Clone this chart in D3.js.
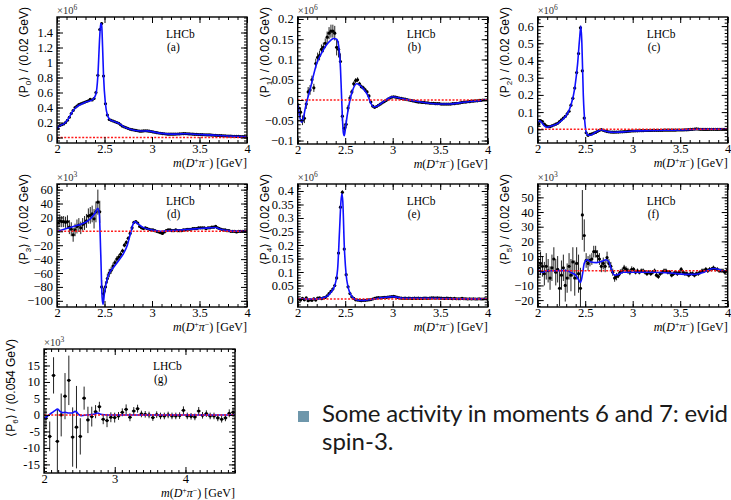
<!DOCTYPE html>
<html>
<head>
<meta charset="utf-8">
<script src="https://cdn.jsdelivr.net/npm/d3@7"></script>
<style>
body { margin: 0; background: #fff; }
svg { display: block; }
.tick text { font-family: "Liberation Serif", serif; font-size: 12.5px; fill: #000; }
.tick line { stroke: #000; }
</style>
</head>
<body>
<svg id="chart" width="731" height="500"></svg>
<script>
// bin centres: 0.02 GeV bins for P0..P5, 0.054 GeV bins for P6
const bins02 = d3.range(100).map(i => 2.01 + 0.02 * i);
const bins054 = d3.range(50).map(i => 2.027 + 0.054 * i);

const xTicks4 = [2, 2.5, 3, 3.5, 4];
const xTicks47 = [2, 3, 4];

const yTicksA = [0, 0.2, 0.4, 0.6, 0.8, 1, 1.2, 1.4];
const yTicksB = [-0.1, -0.05, 0, 0.05, 0.1, 0.15, 0.2];
const yTicksC = [0, 0.1, 0.2, 0.3, 0.4, 0.5, 0.6];
const yTicksD = [-100, -80, -60, -40, -20, 0, 20, 40, 60];
const yTicksE = [0, 0.05, 0.1, 0.15, 0.2, 0.25, 0.3, 0.35, 0.4];
const yTicksF = [-20, -10, 0, 10, 20, 30, 40, 50];
const yTicksG = [-15, -10, -5, 0, 5, 10, 15];

// <P0> (x1e6)
const p0Vals = [
  0.12, 0.16, 0.17, 0.18, 0.20, 0.23, 0.27, 0.32, 0.36, 0.40,
  0.42, 0.44, 0.45, 0.46, 0.47, 0.48, 0.49, 0.51, 0.50, 0.52,
  0.60, 0.83, 1.44, 1.52, 0.82, 0.45, 0.30, 0.24, 0.23, 0.22,
  0.21, 0.20, 0.19, 0.17, 0.15, 0.14, 0.13, 0.12, 0.11, 0.105,
  0.10, 0.095, 0.09, 0.085, 0.085, 0.088, 0.09, 0.088, 0.085, 0.08,
  0.075, 0.07, 0.065, 0.06, 0.057, 0.053, 0.05, 0.047, 0.045, 0.045,
  0.044, 0.045, 0.046, 0.047, 0.048, 0.05, 0.051, 0.052, 0.05, 0.048,
  0.047, 0.045, 0.043, 0.042, 0.04, 0.039, 0.038, 0.037, 0.036, 0.035,
  0.034, 0.032, 0.03, 0.029, 0.027, 0.026, 0.025, 0.023, 0.022, 0.02,
  0.019, 0.018, 0.017, 0.016, 0.015, 0.014, 0.013, 0.012, 0.011, 0.01
];
const p0Errs = [
  0.01, 0.01, 0.01, 0.01, 0.01, 0.01, 0.01, 0.01, 0.01, 0.01,
  0.01, 0.01, 0.01, 0.01, 0.01, 0.01, 0.01, 0.01, 0.01, 0.01,
  0.012, 0.015, 0.02, 0.02, 0.015, 0.012, 0.01, 0.008, 0.008, 0.008,
  0.006, 0.006, 0.006, 0.006, 0.006, 0.006, 0.006, 0.006, 0.006, 0.006,
  0.005, 0.005, 0.005, 0.005, 0.005, 0.005, 0.005, 0.005, 0.005, 0.005,
  0.005, 0.005, 0.005, 0.005, 0.005, 0.005, 0.005, 0.005, 0.005, 0.005,
  0.004, 0.004, 0.004, 0.004, 0.004, 0.004, 0.004, 0.004, 0.004, 0.004,
  0.004, 0.004, 0.004, 0.004, 0.004, 0.004, 0.004, 0.004, 0.004, 0.004,
  0.003, 0.003, 0.003, 0.003, 0.003, 0.003, 0.003, 0.003, 0.003, 0.003,
  0.003, 0.003, 0.003, 0.003, 0.003, 0.003, 0.003, 0.003, 0.003, 0.003
];
const p0Fit = [[2.0, 0.10], [2.02, 0.15], [2.05, 0.17], [2.08, 0.19], [2.12, 0.25], [2.16, 0.34],
  [2.2, 0.40], [2.25, 0.44], [2.3, 0.47], [2.35, 0.49], [2.38, 0.51], [2.41, 0.58], [2.43, 0.82],
  [2.45, 1.35], [2.46, 1.52], [2.47, 1.5], [2.48, 1.2], [2.49, 0.82], [2.51, 0.45], [2.53, 0.30],
  [2.56, 0.235], [2.6, 0.215], [2.65, 0.19], [2.7, 0.145], [2.75, 0.12], [2.8, 0.10], [2.85, 0.09],
  [2.9, 0.087], [2.95, 0.088], [3.0, 0.078], [3.05, 0.065], [3.1, 0.055], [3.2, 0.045], [3.3, 0.048],
  [3.36, 0.051], [3.45, 0.043], [3.6, 0.035], [3.8, 0.02], [4.0, 0.008]];

// <P1> (x1e6)
const p1Vals = [
  -0.02, -0.03, -0.05, -0.045, -0.01, 0.02, 0.025, 0.05, 0.03, 0.09,
  0.105, 0.11, 0.125, 0.13, 0.14, 0.155, 0.165, 0.17, 0.17, 0.165,
  0.13, 0.125, 0.095, -0.04, -0.07, -0.06, -0.02, 0.005, 0.02, 0.04,
  0.048, 0.05, 0.04, 0.033, 0.03, 0.025, 0.02, 0.01, -0.005, -0.015,
  -0.018, -0.016, -0.013, -0.01, -0.007, -0.004, -0.001, 0.002, 0.005, 0.007,
  0.008, 0.007, 0.006, 0.005, 0.004, 0.003, 0.002, 0.001, 0, -0.001,
  -0.002, -0.003, -0.004, -0.005, -0.005, -0.006, -0.006, -0.007, -0.007, -0.008,
  -0.008, -0.008, -0.009, -0.009, -0.009, -0.01, -0.01, -0.01, -0.01, -0.01,
  -0.01, -0.009, -0.009, -0.008, -0.008, -0.007, -0.006, -0.005, -0.005, -0.004,
  -0.004, -0.003, -0.003, -0.002, -0.002, -0.001, -0.001, 0, 0, 0
];
const p1Errs = [
  0.012, 0.012, 0.012, 0.012, 0.012, 0.012, 0.012, 0.01, 0.01, 0.012,
  0.012, 0.012, 0.012, 0.012, 0.012, 0.014, 0.015, 0.016, 0.016, 0.018,
  0.02, 0.02, 0.02, 0.012, 0.012, 0.01, 0.008, 0.007, 0.006, 0.006,
  0.006, 0.006, 0.005, 0.005, 0.005, 0.005, 0.004, 0.004, 0.003, 0.003,
  0.002, 0.002, 0.002, 0.002, 0.002, 0.002, 0.002, 0.002, 0.002, 0.002,
  0.002, 0.002, 0.002, 0.002, 0.002, 0.002, 0.002, 0.002, 0.002, 0.002,
  0.002, 0.002, 0.002, 0.002, 0.002, 0.002, 0.002, 0.002, 0.002, 0.002,
  0.002, 0.002, 0.002, 0.002, 0.002, 0.002, 0.002, 0.002, 0.002, 0.002,
  0.002, 0.002, 0.002, 0.002, 0.002, 0.002, 0.002, 0.002, 0.002, 0.002,
  0.002, 0.002, 0.002, 0.002, 0.002, 0.002, 0.002, 0.002, 0.002, 0.002
];
const p1Fit = [[2.0, -0.01], [2.02, -0.04], [2.04, -0.055], [2.06, -0.045], [2.08, -0.02], [2.1, 0.0],
  [2.13, 0.025], [2.16, 0.055], [2.2, 0.09], [2.25, 0.115], [2.3, 0.135], [2.35, 0.148], [2.38, 0.152],
  [2.41, 0.15], [2.43, 0.135], [2.45, 0.08], [2.46, 0.02], [2.47, -0.04], [2.48, -0.08], [2.49, -0.088],
  [2.5, -0.075], [2.52, -0.04], [2.55, 0.0], [2.58, 0.025], [2.62, 0.04], [2.65, 0.037], [2.7, 0.025],
  [2.74, 0.01], [2.77, -0.008], [2.8, -0.017], [2.83, -0.016], [2.88, -0.008], [2.93, 0.0], [3.0, 0.008],
  [3.05, 0.006], [3.15, 0.001], [3.3, -0.005], [3.5, -0.01], [3.6, -0.01], [3.7, -0.007], [3.85, -0.003],
  [4.0, 0.0]];

// <P2> (x1e6)
const p2Vals = [
  0.03, 0.05, 0.045, 0.03, 0.02, 0.015, 0.015, 0.02, 0.025, 0.03,
  0.035, 0.045, 0.055, 0.065, 0.075, 0.09, 0.105, 0.14, 0.18, 0.24,
  0.33, 0.44, 0.59, 0.34, 0.065, -0.02, -0.035, -0.03, -0.027, -0.022,
  -0.018, -0.012, -0.006, -0.002, -0.006, -0.01, -0.013, -0.015, -0.016, -0.017,
  -0.017, -0.016, -0.016, -0.015, -0.015, -0.014, -0.013, -0.012, -0.011, -0.01,
  -0.01, -0.009, -0.009, -0.008, -0.008, -0.008, -0.007, -0.007, -0.007, -0.007,
  -0.006, -0.006, -0.006, -0.006, -0.006, -0.006, -0.005, -0.005, -0.005, -0.005,
  -0.005, -0.005, -0.005, -0.004, -0.004, -0.004, -0.004, -0.003, -0.003, -0.002,
  -0.001, 0, 0.001, 0.002, 0.001, 0, 0, -0.001, -0.001, -0.001,
  0, 0, 0, 0, -0.001, 0, 0, 0, 0, 0
];
const p2Errs = [
  0.006, 0.006, 0.006, 0.006, 0.006, 0.006, 0.006, 0.006, 0.006, 0.006,
  0.006, 0.006, 0.006, 0.006, 0.006, 0.006, 0.006, 0.007, 0.008, 0.008,
  0.01, 0.01, 0.012, 0.01, 0.008, 0.006, 0.005, 0.005, 0.004, 0.004,
  0.004, 0.004, 0.004, 0.004, 0.004, 0.003, 0.003, 0.003, 0.003, 0.003,
  0.003, 0.003, 0.003, 0.003, 0.003, 0.003, 0.003, 0.003, 0.003, 0.003,
  0.002, 0.002, 0.002, 0.002, 0.002, 0.002, 0.002, 0.002, 0.002, 0.002,
  0.002, 0.002, 0.002, 0.002, 0.002, 0.002, 0.002, 0.002, 0.002, 0.002,
  0.002, 0.002, 0.002, 0.002, 0.002, 0.002, 0.002, 0.002, 0.002, 0.002,
  0.002, 0.002, 0.002, 0.002, 0.002, 0.002, 0.002, 0.002, 0.002, 0.002,
  0.002, 0.002, 0.002, 0.002, 0.002, 0.002, 0.002, 0.002, 0.002, 0.002
];
const p2Fit = [[2.0, 0.03], [2.02, 0.05], [2.04, 0.04], [2.07, 0.02], [2.1, 0.012], [2.15, 0.02],
  [2.2, 0.03], [2.25, 0.05], [2.3, 0.08], [2.35, 0.14], [2.39, 0.24], [2.42, 0.38], [2.44, 0.52],
  [2.455, 0.6], [2.465, 0.5], [2.48, 0.2], [2.5, 0.02], [2.52, -0.03], [2.55, -0.035], [2.6, -0.02],
  [2.65, -0.006], [2.67, -0.002], [2.7, -0.008], [2.75, -0.015], [2.8, -0.017], [2.9, -0.015],
  [3.0, -0.01], [3.2, -0.007], [3.5, -0.004], [3.7, 0.0], [3.9, 0.0], [4.0, 0.0]];

// <P3> (x1e3)
const p3Vals = [
  12, 15, 14, 14, 13, 14, 6, 3, -5, 2,
  7, 9, 5, 10, 12, 15, 22, 23, 25, 18,
  28, 42, 28, -80, -90, -80, -68, -60, -56, -50,
  -45, -40, -37, -33, -28, -20, -16, -10, -3, 5,
  13, 14, 12, 7, 5, 4, 5, 4, 3, 2,
  2, 1, 0, -1, -2, -3, -1, 1, 2, 2,
  1, 1, 2, 1, 1, 1, 2, 2, 3, 3,
  3, 4, 4, 4, 5, 5, 5, 5, 4, 5,
  5, 6, 6, 7, 5, 4, 3, 2, 2, 1,
  1, 0, 0, 0, -1, 0, 0, 0, 0, 0
];
const p3Errs = [
  9, 9, 8, 8, 8, 9, 10, 10, 10, 9,
  10, 10, 9, 9, 10, 10, 11, 12, 12, 14,
  15, 18, 16, 10, 9, 8, 7, 6, 5, 5,
  4, 4, 4, 4, 3, 3, 3, 3, 3, 3,
  1.5, 1.5, 1.5, 1.5, 1.5, 1.5, 1.5, 1.5, 1.5, 1.5,
  1.5, 1.5, 1.5, 1.5, 1.5, 1.5, 1.5, 1.5, 1.5, 1.5,
  1.5, 1.5, 1.5, 1.5, 1.5, 1.5, 1.5, 1.5, 1.5, 1.5,
  1.5, 1.5, 1.5, 1.5, 1.5, 1.5, 1.5, 1.5, 1.5, 1.5,
  1.5, 1.5, 1.5, 1.5, 1.5, 1.5, 1.5, 1.5, 1.5, 1.5,
  1.5, 1.5, 1.5, 1.5, 1.5, 1.5, 1.5, 1.5, 1.5, 1.5
];
const p3Fit = [[2.0, 0], [2.05, 2], [2.1, 4], [2.15, 6], [2.2, 8], [2.25, 10], [2.3, 13], [2.35, 18],
  [2.4, 26], [2.43, 33], [2.445, 25], [2.46, -30], [2.475, -95], [2.485, -105], [2.5, -88], [2.53, -68],
  [2.56, -58], [2.6, -51], [2.65, -42], [2.7, -32], [2.74, -20], [2.77, -5], [2.8, 10], [2.82, 14],
  [2.85, 11], [2.9, 6], [3.0, 2], [3.1, 0], [3.2, 1], [3.3, 2], [3.4, 3], [3.5, 4], [3.6, 5],
  [3.67, 5.5], [3.72, 3], [3.8, 1], [3.9, 0], [4.0, 0]];

// <P4> (x1e6)
const p4Vals = [
  0, -0.004, 0.002, -0.003, 0.004, -0.006, -0.003, -0.005, 0.001, -0.004,
  0.003, 0.004, 0.001, 0.004, 0.006, 0.012, 0.02, 0.028, 0.037, 0.05,
  0.078, 0.17, 0.34, 0.395, 0.185, 0.09, 0.045, 0.02, 0.008, 0.002,
  -0.003, -0.004, -0.005, -0.006, -0.005, -0.005, -0.004, -0.003, -0.002, 0,
  0.002, 0.004, 0.005, 0.004, 0.005, 0.006, 0.006, 0.007, 0.008, 0.009,
  0.01, 0.008, 0.006, 0.004, 0.003, 0.002, 0.003, 0.002, 0.003, 0.002,
  0.002, 0.003, 0.002, 0.003, 0.002, 0.002, 0.003, 0.003, 0.002, 0.003,
  0.004, 0.004, 0.003, 0.004, 0.003, 0.003, 0.002, 0.002, 0.003, 0.002,
  0.002, 0.001, 0.002, 0.001, 0.001, 0.001, 0.002, 0.001, 0.001, 0,
  0.001, 0, 0.001, 0, 0, 0.001, 0, 0, 0.001, 0
];
const p4Errs = [
  0.004, 0.004, 0.004, 0.004, 0.004, 0.004, 0.004, 0.004, 0.004, 0.004,
  0.004, 0.004, 0.004, 0.004, 0.004, 0.004, 0.004, 0.004, 0.005, 0.005,
  0.006, 0.006, 0.008, 0.008, 0.006, 0.005, 0.004, 0.004, 0.003, 0.003,
  0.003, 0.003, 0.003, 0.003, 0.003, 0.003, 0.003, 0.003, 0.003, 0.003,
  0.002, 0.002, 0.002, 0.002, 0.002, 0.002, 0.002, 0.002, 0.002, 0.002,
  0.002, 0.002, 0.002, 0.002, 0.002, 0.002, 0.002, 0.002, 0.002, 0.002,
  0.002, 0.002, 0.002, 0.002, 0.002, 0.002, 0.002, 0.002, 0.002, 0.002,
  0.002, 0.002, 0.002, 0.002, 0.002, 0.002, 0.002, 0.002, 0.002, 0.002,
  0.002, 0.002, 0.002, 0.002, 0.002, 0.002, 0.002, 0.002, 0.002, 0.002,
  0.002, 0.002, 0.002, 0.002, 0.002, 0.002, 0.002, 0.002, 0.002, 0.002
];
const p4Fit = [[2.0, 0.0], [2.2, 0.0], [2.3, 0.008], [2.35, 0.025], [2.39, 0.05], [2.42, 0.11],
  [2.44, 0.25], [2.455, 0.36], [2.465, 0.39], [2.475, 0.36], [2.49, 0.2], [2.51, 0.09], [2.53, 0.045],
  [2.56, 0.015], [2.6, 0.0], [2.65, -0.005], [2.7, -0.005], [2.8, 0.0], [2.9, 0.005], [3.0, 0.009],
  [3.1, 0.003], [3.4, 0.003], [3.7, 0.001], [4.0, 0.0]];

// <P5> (x1e3)
const p5Vals = [
  2, 5, 3, -2, 3, 0, -5, 2, 8, -1,
  1, -12, -3, 2, -10, -5, 3, -3, 6, -5,
  5, -2, -12, 38, 24, 7, 5, 7, 8, 13,
  13, 10, 8, 3, 5, 3, 9, 5, 3, -1,
  -5, -4, -3, -1, 0, 2, 1, 0, -1, 1,
  1, -1, 0, -1, 0, 0, -1, -2, -1, -2,
  -1, 0, -3, -4, -2, -1, 0, 0, -1, -1,
  -3, -2, -1, -2, -1, 1, -1, -2, -2, -3,
  -2, -2, -3, -2, -2, -1, 0, 0, 1, 0,
  1, 1, 2, 1, 1, 0, 0, 0, -1, 0
];
const p5Errs = [
  7, 8, 7, 8, 9, 8, 8, 9, 8, 9,
  9, 12, 10, 9, 11, 10, 9, 11, 10, 12,
  11, 13, 14, 17, 11, 5, 5, 4, 4, 4,
  4, 4, 4, 4, 4, 4, 4, 3, 3, 2.5,
  2.5, 2.5, 2, 2, 2, 2, 2, 2, 2, 2,
  1.5, 1.5, 1.5, 1.5, 1.5, 1.5, 1.5, 1.5, 1.5, 1.5,
  1.5, 1.5, 1.5, 1.5, 1.5, 1.5, 1.5, 1.5, 1.5, 1.5,
  1.5, 1.5, 1.5, 1.5, 1.5, 1.5, 1.5, 1.5, 1.5, 1.5,
  1.5, 1.5, 1.5, 1.5, 1.5, 1.5, 1.5, 1.5, 1.5, 1.5,
  1.5, 1.5, 1.5, 1.5, 1.5, 1.5, 1.5, 1.5, 1.5, 1.5
];
const p5Fit = [[2.0, 0.5], [2.05, -1], [2.1, 0], [2.2, 0], [2.3, 0.2], [2.36, -1.5], [2.4, -3],
  [2.43, -6], [2.45, -8], [2.47, -3], [2.49, 5], [2.52, 7.5], [2.56, 6], [2.62, 5.5], [2.68, 6.5],
  [2.72, 7.5], [2.75, 6], [2.78, 0], [2.81, -3], [2.85, -2.5], [2.9, -1], [3.0, -1], [3.2, -1],
  [3.4, -1.5], [3.55, -2.5], [3.65, -2.5], [3.75, -1], [3.85, 1.5], [3.9, 1], [3.95, 0], [4.0, 0]];

// <P6> (x1e3), 0.054 GeV bins
const p6Vals = [
  -1, -6.5, 12, -8, 0, 5.7, 10.5, -6.7, -3.7, -6.5,
  5.1, -1.5, -0.5, 1, 2.5, -1.3, -1.7, -0.7, -0.8, -0.3,
  0.8, 1.7, -0.7, 1.2, 1.9, 0.3, 0.2, 0, -0.8, 0.1,
  -0.3, -0.3, 0, -0.3, -0.3, -0.2, 1.4, -0.3, -0.4, -0.6,
  1.2, -0.1, 0.4, -0.3, -0.3, -0.9, -1.3, -0.9, 0.5, 0.8
];
const p6Errs = [
  3, 4.5, 5.5, 9.5, 6.5, 7, 7.5, 9, 12.5, 5.5,
  3.5, 4, 3, 2, 1.5, 1.5, 2, 1.5, 1.5, 1.2,
  1.2, 1.5, 1.2, 1.2, 1.2, 1, 1, 1, 1, 1,
  1, 1, 1, 1, 1, 1, 1.2, 1, 1, 1,
  1.2, 1, 1, 1, 1, 1, 1, 1, 1.2, 1.5
];
const p6Fit = [[2.0, -1.2], [2.04, -0.5], [2.08, 0.2], [2.12, 0.8], [2.16, 1.4], [2.19, 1.8],
  [2.22, 1.2], [2.26, 0.7], [2.3, 0.8], [2.35, 0.6], [2.4, 0.6], [2.44, 1.1], [2.46, 0.9],
  [2.49, 0.2], [2.53, -0.2], [2.6, 0], [2.7, 0.2], [2.76, 0.6], [2.8, 0.2], [2.9, 0], [3.2, 0],
  [3.6, 0], [4.0, 0], [4.7, 0]];

const svg = d3.select('svg#chart');

const panels = [
  { tag: 'a', box: [57, 17, 247, 143], xDom: [2, 4], yDom: [-0.0733, 1.6067], xTicks: xTicks4, yTicks: yTicksA,
    yMinor: 0.04, exp: '6', bins: bins02, vals: p0Vals, errs: p0Errs, fit: p0Fit, moment: '0', bw: '0.02', minus: '-' },
  { tag: 'b', box: [297.7, 17, 487.7, 144], xDom: [2, 4], yDom: [-0.1086, 0.2049], xTicks: xTicks4, yTicks: yTicksB,
    yMinor: 0.01, exp: '6', bins: bins02, vals: p1Vals, errs: p1Errs, fit: p1Fit, moment: '1', bw: '0.02', minus: '\u2212' },
  { tag: 'c', box: [537.7, 17, 727.7, 143], xDom: [2, 4], yDom: [-0.0797, 0.6529], xTicks: xTicks4, yTicks: yTicksC,
    yMinor: 0.02, exp: '6', bins: bins02, vals: p2Vals, errs: p2Errs, fit: p2Fit, moment: '2', bw: '0.02', minus: '-' },
  { tag: 'd', box: [57, 184, 247, 307], xDom: [2, 4], yDom: [-108.9, 68.1], xTicks: xTicks4, yTicks: yTicksD,
    yMinor: 4, exp: '3', bins: bins02, vals: p3Vals, errs: p3Errs, fit: p3Fit, moment: '3', bw: '0.02', minus: '\u2212' },
  { tag: 'e', box: [297.7, 184, 487.7, 307], xDom: [2, 4], yDom: [-0.0296, 0.4259], xTicks: xTicks4, yTicks: yTicksE,
    yMinor: 0.01, exp: '6', bins: bins02, vals: p4Vals, errs: p4Errs, fit: p4Fit, moment: '4', bw: '0.02', minus: '-' },
  { tag: 'f', box: [537.7, 184, 727.7, 307], xDom: [2, 4], yDom: [-24.7, 59.1], xTicks: xTicks4, yTicks: yTicksF,
    yMinor: 2, exp: '3', bins: bins02, vals: p5Vals, errs: p5Errs, fit: p5Fit, moment: '5', bw: '0.02', minus: '\u2212' },
  { tag: 'g', box: [44, 349, 235, 473], xDom: [2, 4.7], yDom: [-17.6, 20], xTicks: xTicks47, yTicks: yTicksG,
    yMinor: 1, exp: '3', bins: bins054, vals: p6Vals, errs: p6Errs, fit: p6Fit, moment: '6', bw: '0.054', minus: '-' },
];

const minorTicks = (dom, step) => d3.range(Math.ceil(dom[0] / step - 1e-6) * step, dom[1] + 1e-9, step)
  .map(v => +v.toFixed(4));

const drawPanel = (p) => {
  const [x0, y0, x1, y1] = p.box;
  const binW = p.bins[1] - p.bins[0];
  const x = d3.scaleLinear().domain(p.xDom).range([x0, x1]);
  const y = d3.scaleLinear().domain(p.yDom).range([y1, y0]);
  const g = svg.append('g').attr('id', 'panel_' + p.tag);

  svg.append('clipPath').attr('id', 'clip_' + p.tag).append('rect')
    .attr('x', x0).attr('y', y0).attr('width', x1 - x0).attr('height', y1 - y0);
  const plot = g.append('g').attr('clip-path', 'url(#clip_' + p.tag + ')');

  // error bars and markers
  plot.selectAll('line.err').data(p.vals).join('line').classed('err', true)
    .attr('x1', (d, i) => x(p.bins[i])).attr('x2', (d, i) => x(p.bins[i]))
    .attr('y1', (d, i) => y(d - p.errs[i])).attr('y2', (d, i) => y(d + p.errs[i]))
    .attr('stroke', '#222').attr('stroke-width', 1);
  plot.selectAll('line.xerr').data(p.vals).join('line').classed('xerr', true)
    .attr('x1', (d, i) => x(p.bins[i] - binW / 2)).attr('x2', (d, i) => x(p.bins[i] + binW / 2))
    .attr('y1', d => y(d)).attr('y2', d => y(d))
    .attr('stroke', '#000').attr('stroke-width', 1);
  plot.selectAll('circle.pt').data(p.vals).join('circle').classed('pt', true)
    .attr('cx', (d, i) => x(p.bins[i])).attr('cy', d => y(d)).attr('r', 1.6)
    .attr('fill', '#000');

  // fit curve
  const line = d3.line().x(d => x(d[0])).y(d => y(d[1])).curve(d3.curveMonotoneX);
  plot.append('path').datum(p.fit).attr('d', line)
    .attr('fill', 'none').attr('stroke', '#1010ff').attr('stroke-width', 1.6);

  // zero line (red dotted, on top)
  plot.append('line')
    .attr('x1', x0).attr('x2', x1).attr('y1', y(0)).attr('y2', y(0))
    .attr('stroke', '#ff1a1a').attr('stroke-width', 1.4).attr('stroke-dasharray', '2,1.6');

  // axes, ticks inward on all four sides
  const fmt = d => String(+d.toFixed(3)).replace('-', p.minus);
  const xMinor = minorTicks(p.xDom, 0.1);
  const yMinor = minorTicks(p.yDom, p.yMinor);
  const noDomain = a => a.select('.domain').remove();

  g.append('g').attr('transform', `translate(0,${y1})`)
    .call(d3.axisBottom(x).tickValues(p.xTicks).tickSize(-6).tickPadding(1).tickFormat(d => d)).call(noDomain);
  g.append('g').attr('transform', `translate(0,${y1})`)
    .call(d3.axisBottom(x).tickValues(xMinor).tickSize(-3).tickFormat('')).call(noDomain);
  g.append('g').attr('transform', `translate(0,${y0})`)
    .call(d3.axisTop(x).tickValues(p.xTicks).tickSize(-6).tickFormat('')).call(noDomain);
  g.append('g').attr('transform', `translate(0,${y0})`)
    .call(d3.axisTop(x).tickValues(xMinor).tickSize(-3).tickFormat('')).call(noDomain);

  g.append('g').attr('transform', `translate(${x0},0)`)
    .call(d3.axisLeft(y).tickValues(p.yTicks).tickSize(-6).tickPadding(4).tickFormat(fmt)).call(noDomain);
  g.append('g').attr('transform', `translate(${x0},0)`)
    .call(d3.axisLeft(y).tickValues(yMinor).tickSize(-3).tickFormat('')).call(noDomain);
  g.append('g').attr('transform', `translate(${x1},0)`)
    .call(d3.axisRight(y).tickValues(p.yTicks).tickSize(-6).tickFormat('')).call(noDomain);
  g.append('g').attr('transform', `translate(${x1},0)`)
    .call(d3.axisRight(y).tickValues(yMinor).tickSize(-3).tickFormat('')).call(noDomain);

  g.append('rect').attr('x', x0).attr('y', y0).attr('width', x1 - x0).attr('height', y1 - y0)
    .attr('fill', 'none').attr('stroke', '#000').attr('stroke-width', 1.4);

  // exponent label
  const ex = g.append('text').attr('x', x0).attr('y', y0 - 3)
    .style('font-family', '"Liberation Serif", serif').style('font-size', '10.5px').attr('fill', '#333');
  ex.append('tspan').text('\u00d710');
  ex.append('tspan').attr('dy', -4).style('font-size', '7.5px').text(p.exp);

  // LHCb label
  const labStyle = t => t.style('font-family', '"Liberation Serif", serif').style('font-size', '11.5px');
  g.append('text').attr('x', x0 + 109).attr('y', y0 + 21).call(labStyle).text('LHCb');
  g.append('text').attr('x', x0 + 110).attr('y', y0 + 34).call(labStyle).text('(' + p.tag + ')');

  // x title
  const xt = g.append('text').attr('x', x1).attr('y', y1 + 24).attr('text-anchor', 'end')
    .style('font-family', '"Liberation Serif", serif').style('font-size', '12px');
  xt.append('tspan').style('font-style', 'italic').text('m');
  xt.append('tspan').text('(');
  xt.append('tspan').style('font-style', 'italic').text('D');
  xt.append('tspan').attr('dy', -4).style('font-size', '8px').text('+');
  xt.append('tspan').attr('dy', 4).style('font-style', 'italic').text('\u03c0');
  xt.append('tspan').attr('dy', -4).style('font-size', '8px').text('\u2212');
  xt.append('tspan').attr('dy', 4).text(') [GeV]');

  // y title
  const yt = g.append('text').attr('transform', `translate(${x0 - 29},${y0 - 10}) rotate(-90)`)
    .attr('text-anchor', 'end')
    .style('font-family', '"Liberation Sans", sans-serif').style('font-size', '12px');
  yt.append('tspan').text('\u27e8P');
  yt.append('tspan').attr('dy', 3).style('font-size', '8px').text(p.moment);
  yt.append('tspan').attr('dy', -3).text('\u27e9 / (' + p.bw + ' GeV)');
};

panels.forEach(drawPanel);

// bullet text at the bottom right
const note = svg.append('g');
note.append('rect').attr('x', 298).attr('y', 411).attr('width', 11).attr('height', 11).attr('fill', '#6e97ab');
const nt = note.append('text').style('font-family', 'Lato, sans-serif').style('font-size', '24px').attr('fill', '#1a1a1a');
nt.append('tspan').attr('x', 322).attr('y', 422)
  .attr('textLength', 406).attr('lengthAdjust', 'spacing')
  .text('Some activity in moments 6 and 7: evid');
nt.append('tspan').attr('x', 322).attr('y', 450).text('spin-3.');
</script>
</body>
</html>
